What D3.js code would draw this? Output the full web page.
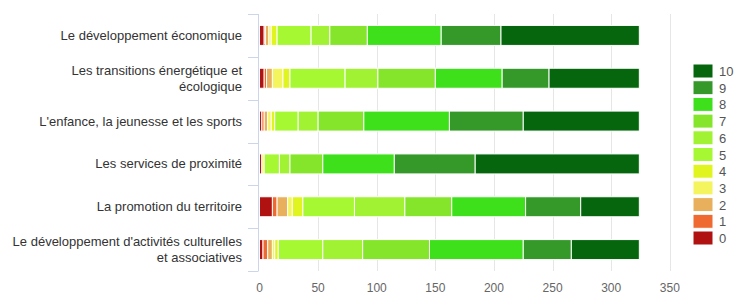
<!DOCTYPE html>
<html>
<head>
<meta charset="utf-8">
<script src="https://cdn.jsdelivr.net/npm/d3@7"></script>
<style>
  body { margin: 0; background: #fff; }
  svg { font-family: "Liberation Sans", Arial, sans-serif; }
</style>
</head>
<body>
<svg id="chart" width="739" height="294"></svg>
<script>
// categories (multi-line labels split on "\n")
const categories = [
    "Le développement économique",
    "Les transitions énergétique et\nécologique",
    "L'enfance, la jeunesse et les sports",
    "Les services de proximité",
    "La promotion du territoire",
    "Le développement d'activités culturelles\net associatives"
];

// one series per note, values per category
const notes = ["0", "1", "2", "3", "4", "5", "6", "7", "8", "9", "10"];
const s0  = [4, 4, 2, 2, 11, 3];
const s1  = [1, 2, 2, 0, 4, 4];
const s2  = [3, 5, 3, 0, 9, 4];
const s3  = [2, 9, 3, 2, 4, 2];
const s4  = [5, 6, 3, 0, 9, 3];
const s5  = [29, 47, 20, 13, 44, 38];
const s6  = [16, 28, 17, 9, 43, 34];
const s7  = [32, 49, 39, 28, 40, 57];
const s8  = [63, 57, 73, 61, 63, 80];
const s9  = [51, 40, 63, 69, 47, 41];
const s10 = [118, 77, 99, 140, 50, 58];
const seriesValues = [s0, s1, s2, s3, s4, s5, s6, s7, s8, s9, s10];

const colors = ["#b01212", "#ef6a30", "#e8b05c", "#f4f45e", "#e0f520",
                "#a6f833", "#a0f232", "#84e52a", "#3ee01b", "#35992a", "#05660d"];

const xTicks = [0, 50, 100, 150, 200, 250, 300, 350];

const svg = d3.select("#chart");

const x = d3.scaleLinear().domain([0, 350]).range([259.5, 669.8]);
const y = d3.scaleBand().domain(categories).range([14, 271]);

// build table for d3.stack
const table = categories.map((c, i) => {
    const row = { cat: c };
    notes.forEach((n, j) => row[n] = seriesValues[j][i]);
    return row;
});
const stacked = d3.stack().keys(notes)(table);

// grid
svg.append("g")
    .selectAll("line")
    .data(xTicks.slice(1))
    .enter().append("line")
    .attr("x1", d => Math.round(x(d)) + 0.5)
    .attr("x2", d => Math.round(x(d)) + 0.5)
    .attr("y1", 14)
    .attr("y2", 271)
    .attr("stroke", "#e6e6e6");

// y axis line and ticks
svg.append("line")
    .attr("x1", 258.5).attr("x2", 258.5)
    .attr("y1", 14).attr("y2", 271)
    .attr("stroke", "#ccd6eb");

const bounds = categories.map(c => y(c)).concat([y.range()[1]]);
svg.append("g")
    .selectAll("line")
    .data(bounds)
    .enter().append("line")
    .attr("x1", 248).attr("x2", 258.5)
    .attr("y1", d => Math.round(d) + 0.5)
    .attr("y2", d => Math.round(d) + 0.5)
    .attr("stroke", "#ccd6eb");

// bars
const barH = 20;
const layer = svg.append("g")
    .selectAll("g")
    .data(stacked)
    .enter().append("g")
    .attr("fill", (d, i) => colors[i]);

layer.selectAll("rect")
    .data(d => d)
    .enter().append("rect")
    .filter(d => d[1] - d[0] > 0)
    .attr("x", d => x(d[0]))
    .attr("y", d => y(d.data.cat) + y.bandwidth() / 2 - barH / 2)
    .attr("width", d => x(d[1]) - x(d[0]))
    .attr("height", barH)
    .attr("stroke", "#fff")
    .attr("stroke-width", 1);

// category labels
const labels = svg.append("g")
    .selectAll("text")
    .data(categories)
    .enter().append("text")
    .attr("text-anchor", "end")
    .attr("font-size", "13px")
    .attr("fill", "#333");

labels.each(function (c) {
    const lines = c.split("\n");
    const cy = y(c) + y.bandwidth() / 2;
    const lh = 16;
    const top = cy - (lines.length - 1) * lh / 2 + 4.5;
    d3.select(this).selectAll("tspan")
        .data(lines)
        .enter().append("tspan")
        .attr("x", 242)
        .attr("y", (d, i) => top + i * lh)
        .text(d => d);
});

// x tick labels
svg.append("g")
    .selectAll("text")
    .data(xTicks)
    .enter().append("text")
    .attr("x", d => x(d))
    .attr("y", 292)
    .attr("text-anchor", "middle")
    .attr("font-size", "12px")
    .attr("fill", "#666")
    .text(d => d);

// legend (reversed: 10 on top)
const legend = svg.append("g")
    .selectAll("g")
    .data(notes.slice().reverse())
    .enter().append("g")
    .attr("transform", (d, i) => `translate(693, ${64 + i * 16.7})`);

legend.append("rect")
    .attr("width", 20)
    .attr("height", 14)
    .attr("fill", d => colors[+d])
    .attr("stroke", "#fff");

legend.append("text")
    .attr("x", 26)
    .attr("y", 12)
    .attr("font-size", "13px")
    .attr("fill", "#555")
    .text(d => d);
</script>
</body>
</html>
